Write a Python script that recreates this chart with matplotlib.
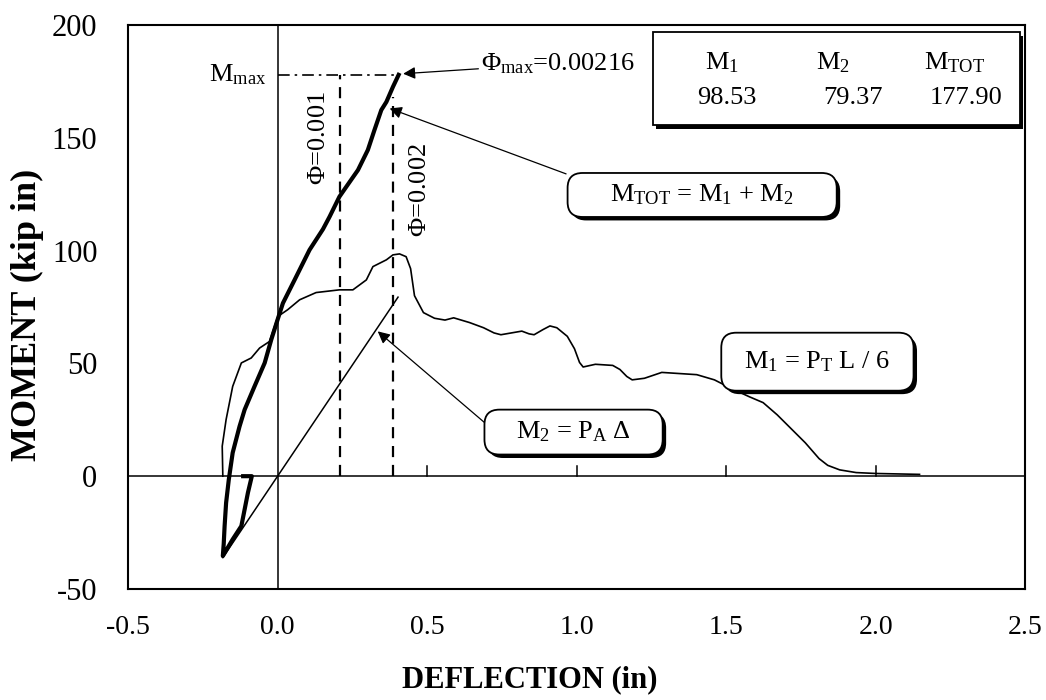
import numpy as np
import matplotlib
matplotlib.use("Agg")
import matplotlib.pyplot as plt
from matplotlib.patches import Rectangle, FancyBboxPatch
from matplotlib import patheffects as pe

plt.rcParams['font.family'] = ['Liberation Serif', 'DejaVu Serif']
plt.rcParams['mathtext.fontset'] = 'custom'
plt.rcParams['mathtext.rm'] = 'Liberation Serif'
plt.rcParams['mathtext.it'] = 'Liberation Serif:italic'
plt.rcParams['mathtext.bf'] = 'Liberation Serif:bold'

# ---- data -------------------------------------------------------------
x_ticks = [-0.5, 0.0, 0.5, 1.0, 1.5, 2.0, 2.5]
y_ticks = [-50, 0, 50, 100, 150, 200]

# M1 = P_T L / 6 (lateral-load moment)
m1_x = [-0.183, -0.185, -0.172, -0.150, -0.121, -0.088, -0.060, -0.027, 0.001,
        0.034, 0.074, 0.129, 0.207, 0.252, 0.297, 0.319, 0.364, 0.386, 0.408,
        0.430, 0.445, 0.458, 0.488, 0.525, 0.560, 0.589, 0.642, 0.689, 0.724,
        0.747, 0.782, 0.817, 0.841, 0.858, 0.888, 0.911, 0.934, 0.969, 0.993,
        1.010, 1.022, 1.063, 1.121, 1.145, 1.168, 1.186, 1.227, 1.285, 1.320,
        1.402, 1.461, 1.519, 1.578, 1.624, 1.671, 1.718, 1.765, 1.811, 1.840,
        1.880, 1.935, 2.000, 2.147]
m1_y = [0.0, 13.3, 25.1, 39.8, 50.2, 52.4, 56.8, 59.7, 70.8,
        73.8, 78.2, 81.4, 82.6, 82.6, 87.0, 92.9, 95.9, 98.1, 98.53,
        97.3, 92.0, 80.0, 72.5, 70.0, 69.2, 70.2, 68.1, 65.8, 63.5,
        62.7, 63.5, 64.3, 63.1, 62.7, 65.0, 66.6, 65.8, 62.0, 56.5,
        50.4, 48.4, 49.6, 49.1, 47.3, 44.2, 42.7, 43.4, 46.0, 45.7,
        45.0, 42.7, 38.8, 35.2, 32.6, 27.2, 21.0, 14.8, 7.8, 4.8,
        2.8, 1.6, 1.2, 0.8]

# M2 = P_A * Delta (axial-load moment)
m2_x = [-0.183, 0.403]
m2_y = [-36.1, 79.37]

# M_TOT = M1 + M2
mt_x = [-0.115, -0.086, -0.099, -0.110, -0.121, -0.150, -0.183, -0.180, -0.177,
        -0.172, -0.163, -0.150, -0.127, -0.110, -0.077, -0.043, -0.021, 0.000,
        0.018, 0.057, 0.107, 0.152, 0.174, 0.207, 0.230, 0.269, 0.302, 0.324,
        0.347, 0.364, 0.386, 0.405]
mt_y = [0.0, 0.0, -7.3, -14.7, -22.1, -28.0, -35.4, -30.0, -22.1,
        -11.8, -1.5, 10.4, 22.1, 29.5, 39.8, 50.2, 60.5, 69.3,
        76.7, 87.0, 100.3, 109.5, 115.0, 123.9, 128.3, 135.7, 144.6, 153.4,
        162.3, 165.9, 172.6, 177.90]

# curvature reference deflections
phi_labels = [r'$\Phi$=0.001', r'$\Phi$=0.002']
phi_x = [0.21, 0.387]
phi_top = [177.90, 168.0]

m_max = 177.90
x_at_max = 0.405

table_heads = [r'M$_1$', r'M$_2$', r'M$_{\mathrm{TOT}}$']
table_vals = ['98.53', '79.37', '177.90']

# ---- figure -----------------------------------------------------------
fig = plt.figure(figsize=(10.46, 7.0), dpi=100)
ax = fig.add_axes([0.1224, 0.1586, 0.8576, 0.8057])
ax.set_xlim(x_ticks[0], x_ticks[-1])
ax.set_ylim(y_ticks[0], y_ticks[-1])

for s in ax.spines.values():
    s.set_linewidth(1.5)
    s.set_color('black')

ax.set_xticks(x_ticks)
ax.set_xticklabels([f'{t:.1f}' for t in x_ticks])
ax.set_yticks(y_ticks)
ax.set_yticklabels([str(t) for t in y_ticks])
ax.tick_params(axis='both', length=0)
ax.tick_params(axis='x', pad=19, labelsize=20)
ax.tick_params(axis='y', pad=22, labelsize=22)

ax.set_xlabel('DEFLECTION (in)', fontsize=22, fontweight='bold')
ax.set_ylabel('MOMENT (kip in)', fontsize=26, fontweight='bold')
ax.xaxis.set_label_coords(0.448, -0.161)
ax.yaxis.set_label_coords(-0.112, 0.486)
ax.xaxis.label.set_va('center')
ax.yaxis.label.set_va('center')

# axes through the origin with small ticks on the deflection axis
ax.axhline(0, color='black', lw=1.1, zorder=1)
ax.axvline(0, color='black', lw=1.1, zorder=1)
for t in x_ticks[2:-1]:
    ax.plot([t, t], [0, 4.4], color='black', lw=1.1, zorder=1)

# curves
ax.plot(m1_x, m1_y, color='black', lw=1.2, zorder=3)
ax.plot(m2_x, m2_y, color='black', lw=1.1, zorder=3)
ax.plot(mt_x, mt_y, color='black', lw=3.0, zorder=4, solid_joinstyle='round')

# curvature markers
for xv, top in zip(phi_x, phi_top):
    ax.plot([xv, xv], [0, top], color='black', lw=1.6, ls=(0, (5, 3.5)), zorder=2)
ax.text(phi_x[0] - 0.073, 150, phi_labels[0], rotation=90, fontsize=19,
        ha='center', va='center')
ax.text(phi_x[1] + 0.091, 127, phi_labels[1], rotation=90, fontsize=19,
        ha='center', va='center')

# M_max level
ax.plot([0, x_at_max], [m_max, m_max], color='black', lw=1.2,
        ls=(0, (7, 3, 1.5, 3)), zorder=2)
ax.text(-0.038, m_max, r'M$_{\mathrm{max}}$', fontsize=19, ha='right',
        va='center')

arrow = dict(arrowstyle='-|>', color='black', lw=0.9, mutation_scale=18,
             shrinkA=0, shrinkB=0)

ax.annotate(r'$\Phi_{\mathrm{max}}$=0.00216', xy=(0.42, 178.4),
            xytext=(0.681, 182.9), fontsize=19, ha='left', va='center',
            arrowprops=arrow)

shadow = [pe.SimplePatchShadow(offset=(2.5, -2.5), shadow_rgbFace='black',
                               alpha=1.0), pe.Normal()]
# aspect between y and x data units so rounded corners stay circular
aspect = (250 / 564) / (3.0 / 897)


def label_box(x0, x1, y0, y1, text, start=None, tip=None):
    if tip is not None:
        ax.annotate('', xy=tip, xytext=start, arrowprops=arrow, zorder=5)
    patch = FancyBboxPatch((x0, y0), x1 - x0, y1 - y0,
                           boxstyle='round,pad=0,rounding_size=0.05',
                           mutation_aspect=aspect, fc='white', ec='black',
                           lw=1.3, zorder=6)
    patch.set_path_effects(shadow)
    ax.add_patch(patch)
    ax.text((x0 + x1) / 2, (y0 + y1) / 2, text, fontsize=19, ha='center',
            va='center', zorder=7)


label_box(0.97, 1.87, 114.9, 134.4, r'M$_{\mathrm{TOT}}$ = M$_1$ + M$_2$',
          start=(0.965, 134.0), tip=(0.375, 163.0))
label_box(0.692, 1.288, 9.6, 29.5, r'M$_2$ = P$_{\mathrm{A}}$ $\Delta$',
          start=(0.692, 23.8), tip=(0.335, 64.2))
label_box(1.484, 2.127, 37.9, 63.6, r'M$_1$ = P$_{\mathrm{T}}$ L / 6')

# summary table at peak
box = Rectangle((1.254, 155.6), 1.228, 41.2, fc='white', ec='black', lw=1.3,
                zorder=6)
box.set_path_effects(shadow)
ax.add_patch(box)
head_x = [1.485, 1.856, 2.264]
val_x = [1.502, 1.923, 2.304]
for hx, vx, h, v in zip(head_x, val_x, table_heads, table_vals):
    ax.text(hx, 183.5, h, fontsize=19, ha='center', va='center', zorder=7)
    ax.text(vx, 167.6, v, fontsize=19, ha='center', va='center', zorder=7)

fig.savefig('out.png', dpi=100)
